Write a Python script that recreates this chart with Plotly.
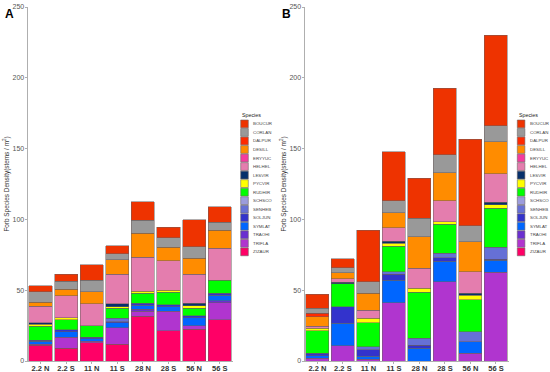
import plotly.graph_objects as go

categories = ["2.2 N", "2.2 S", "11 N", "11 S", "28 N", "28 S", "56 N", "56 S"]
species = ["BOUCUR", "CORLAN", "DALPUR", "DESILL", "ERYYUC", "HELHEL", "LESVIR", "PYCVIR",
           "RUDHIR", "SCHSCO", "SENHEB", "SOLJUN", "SYMLAT", "TRAOHI", "TRIFLA", "ZIZAUR"]
colors = ["#EE3300", "#999999", "#FF2A00", "#FF8C00", "#F53B9E", "#E47DAE", "#06306B", "#FFFF00",
          "#00FF00", "#9C9CDC", "#6670D6", "#3333CC", "#0066FF", "#6A2FD0", "#B035CF", "#FF0066"]

# Panel A densities (rows follow `species`, columns follow `categories`)
density_A = [
    [4.2, 5.1, 10.9, 5.9, 13.1, 7.3, 18.9, 11.1],     # BOUCUR
    [7.6, 5.5, 8.2, 4.2, 9.2, 6.8, 8.2, 5.4],         # CORLAN
    [0, 0, 0, 0, 0, 0, 0, 0],                         # DALPUR
    [2.6, 4.7, 8.3, 10.2, 17.0, 9.5, 11.3, 12.9],     # DESILL
    [0, 0, 0, 0, 0, 0, 0, 0],                         # ERYYUC
    [11.7, 15.7, 15.8, 20.9, 23.8, 21.1, 20.5, 22.4], # HELHEL
    [1.0, 0, 0, 1.9, 0, 0, 1.7, 0],                   # LESVIR
    [1.4, 1.4, 0, 1.2, 1.6, 1.2, 1.8, 0],             # PYCVIR
    [9.9, 7.1, 8.0, 7.0, 7.1, 9.0, 5.2, 9.4],         # RUDHIR
    [0, 0, 0, 0, 0, 0, 0, 0],                         # SCHSCO
    [0, 0, 0, 2.6, 0, 0, 0, 0],                       # SENHEB
    [1.0, 1.4, 1.2, 0.5, 1.2, 1.2, 1.4, 1.2],         # SOLJUN
    [1.8, 3.8, 1.5, 3.5, 3.0, 3.1, 5.7, 4.2],         # SYMLAT
    [0, 0, 0, 0, 1.2, 0, 0, 1.2],                     # TRAOHI
    [0.7, 7.7, 1.2, 11.8, 3.8, 13.9, 2.3, 12.2],      # TRIFLA
    [11.3, 9.0, 12.9, 11.8, 31.5, 21.4, 22.6, 29.0],  # ZIZAUR
]

# Panel B densities
density_B = [
    [9.9, 6.3, 36.5, 34.7, 28.2, 47.1, 61.0, 64.0],   # BOUCUR
    [3.5, 3.8, 8.2, 8.5, 13.0, 12.5, 11.3, 11.3],     # CORLAN
    [2.4, 0, 0, 0, 0, 0, 0, 0],                       # DALPUR
    [6.6, 4.0, 11.8, 10.6, 22.3, 19.8, 21.2, 22.8],   # DESILL
    [0, 0, 0, 0, 0, 0, 0, 0],                         # ERYYUC
    [1.6, 2.6, 5.8, 9.4, 14.2, 14.8, 15.1, 20.0],     # HELHEL
    [0, 0.9, 0, 1.6, 0, 0, 1.4, 1.9],                 # LESVIR
    [1.7, 0, 3.1, 1.9, 2.8, 1.9, 3.5, 2.4],           # PYCVIR
    [16.0, 16.3, 17.0, 18.1, 32.5, 20.4, 22.4, 27.5], # RUDHIR
    [0, 0, 0, 0, 0, 0, 0, 0],                         # SCHSCO
    [0, 0, 2.3, 1.9, 4.7, 3.1, 7.1, 8.5],             # SENHEB
    [1.6, 11.8, 4.3, 4.0, 2.3, 2.4, 0, 0.7],          # SOLJUN
    [1.9, 15.8, 2.3, 16.0, 9.0, 14.6, 8.2, 8.5],      # SYMLAT
    [0, 0, 0, 0, 0, 0, 0, 0],                         # TRAOHI
    [1.9, 10.8, 1.2, 41.2, 0, 56.0, 5.4, 62.6],       # TRIFLA
    [0, 0, 0, 0, 0, 0, 0, 0],                         # ZIZAUR
]

y_ticks = [0, 50, 100, 150, 200, 250]

W, H = 550, 372
fig = go.Figure()

OUTLINE = "rgba(105,95,95,0.85)"
for panel, data, xa, ya in [("A", density_A, "x", "y"), ("B", density_B, "x2", "y2")]:
    for i in reversed(range(len(species))):
        vals = [v if v > 0 else None for v in data[i]]
        fig.add_trace(go.Bar(
            x=categories, y=vals, name=species[i], xaxis=xa, yaxis=ya,
            marker=dict(color=colors[i], line=dict(color=OUTLINE, width=0.6)),
            showlegend=False,
        ))

def px_x(p):
    return p / W

def px_y(p):
    return 1 - p / H

axis_common = dict(showgrid=False, zeroline=False, showline=True, linecolor="#AFAFAF",
                   linewidth=1.2, ticks="outside", ticklen=2, tickcolor="#AFAFAF",
                   automargin=False)

xcommon = dict(tickfont=dict(size=7.5, color="#333333", family="Liberation Sans, Arial"),
               tickvals=categories, ticktext=["<b>%s</b>" % c for c in categories],
               ticklabelstandoff=-2, **axis_common)
ycommon = dict(range=[0, 250], tickvals=y_ticks, tickfont=dict(size=7, color="#555555"),
               title=dict(text="Forb Species Density(stems / m<sup>2</sup>)",
                          font=dict(size=6.4, color="#333333"), standoff=2),
               ticklabelstandoff=-1, **axis_common)

fig.update_layout(
    width=W, height=H, margin=dict(l=0, r=0, t=0, b=0, autoexpand=False),
    plot_bgcolor="white", paper_bgcolor="white",
    barmode="stack", bargap=0.1,
    font=dict(family="Liberation Sans, Arial", color="#333333"),
    xaxis=dict(domain=[px_x(27.7), px_x(232.5)], anchor="y", **xcommon),
    yaxis=dict(domain=[px_y(361), px_y(7)], anchor="x", **ycommon),
    xaxis2=dict(domain=[px_x(304.6), px_x(508.7)], anchor="y2", **xcommon),
    yaxis2=dict(domain=[px_y(361), px_y(7)], anchor="x2", **ycommon),
)

shapes = []
annotations = []
# panel letters
for letter, lx in [("A", 9), ("B", 286)]:
    annotations.append(dict(text="<b>%s</b>" % letter, x=px_x(lx), y=px_y(14), xref="paper", yref="paper",
                            showarrow=False, font=dict(size=12, color="black"), xanchor="center", yanchor="middle"))

# manual legends
for sx in [240.7, 517.3]:
    annotations.append(dict(text="Species", x=px_x(sx - 0.5), y=px_y(115), xref="paper", yref="paper",
                            showarrow=False, font=dict(size=5.3, color="#222222"), xanchor="left", yanchor="middle"))
    for i, sp in enumerate(species):
        top = 120 + 8.53 * i
        shapes.append(dict(type="rect", xref="paper", yref="paper",
                           x0=px_x(sx), x1=px_x(sx + 7.6), y0=px_y(top + 7.8), y1=px_y(top),
                           fillcolor=colors[i], line=dict(color="#6E6666", width=0.6)))
        annotations.append(dict(text=sp, x=px_x(sx + 10.5), y=px_y(top + 3.9), xref="paper", yref="paper",
                                showarrow=False, font=dict(size=4.4, color="#444444"),
                                xanchor="left", yanchor="middle"))

fig.update_layout(shapes=shapes, annotations=annotations)
fig.write_html("out.html", config={"displayModeBar": False},
               post_script="document.body.style.margin='0';document.body.style.overflow='hidden';")
